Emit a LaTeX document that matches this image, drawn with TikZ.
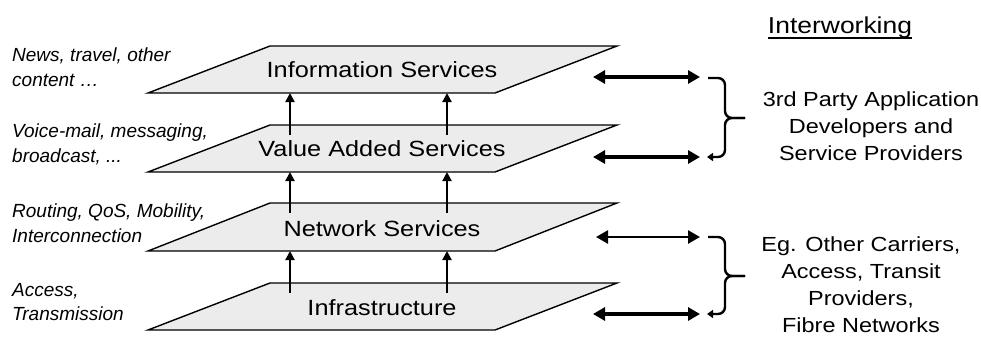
\documentclass[tikz,border=0pt]{standalone}
\usepackage{fontspec}
\setmainfont{Liberation Sans}
\newfontfamily\widefont{Liberation Sans}[FakeStretch=1.15]
\usetikzlibrary{arrows.meta}
\definecolor{layergray}{RGB}{236,236,236}
\begin{document}
\begin{tikzpicture}[x=1pt,y=-1pt,
  layer/.style={draw=black, line width=1.4pt, fill=layergray, line join=miter},
  lab/.style={font=\widefont\fontsize{22}{26}\selectfont, inner sep=0pt},
  side/.style={font=\itshape\fontsize{19}{24.5}\selectfont, inner sep=0pt, anchor=north west, align=left},
  party/.style={font=\widefont\fontsize{20.4}{27}\selectfont, inner sep=0pt, anchor=north, align=center},
  uparrow/.style={line width=2pt, -{Triangle[length=9pt,width=9pt]}},
  dbl/.style={line width=4pt, {Triangle[length=12pt,width=13pt]}-{Triangle[length=12pt,width=13pt]}},
  dblthin/.style={line width=2.6pt, {Triangle[length=12pt,width=13pt]}-{Triangle[length=12pt,width=13pt]}},
  bracestyle/.style={line width=2.4pt, rounded corners=7pt},
  bracetip/.style={line width=2.4pt, rounded corners=7pt, -{Triangle[length=6pt,width=8pt]}}
]
\useasboundingbox (0,0) rectangle (981,338);
\fill[white] (0,0) rectangle (981,338);

% layers (bottom to top so upper ones are drawn last)
\draw[layer] (148,330) -- (270,283) -- (617,283) -- (495,330) -- cycle;
\draw[layer] (148,251) -- (270,203) -- (617,203) -- (495,251) -- cycle;
\draw[layer] (148,172) -- (270,125) -- (617,125) -- (495,172) -- cycle;
\draw[layer] (148,93) -- (270,46) -- (617,46) -- (495,93) -- cycle;

\node[lab] (info)  at (382,69.5) {Information Services};
\node[lab] (vas)   at (382,148.5) {Value Added Services};
\node[lab] (net)   at (382,228.5) {Network Services};
\node[lab] (infra) at (382,307.5) {Infrastructure};

% vertical arrows
\coordinate (u1a) at (290,135); \coordinate (u1b) at (290,93);
\coordinate (u2a) at (447,135); \coordinate (u2b) at (447,93);
\coordinate (u3a) at (290,213); \coordinate (u3b) at (290,172);
\coordinate (u4a) at (447,213); \coordinate (u4b) at (447,172);
\coordinate (u5a) at (290,293); \coordinate (u5b) at (290,251);
\coordinate (u6a) at (447,293); \coordinate (u6b) at (447,251);
\draw[uparrow] (u1a) -- (u1b);
\draw[uparrow] (u2a) -- (u2b);
\draw[uparrow] (u3a) -- (u3b);
\draw[uparrow] (u4a) -- (u4b);
\draw[uparrow] (u5a) -- (u5b);
\draw[uparrow] (u6a) -- (u6b);

% left descriptions
\node[side] (d1) at (12,48) {News, travel, other\\content \dots};
\node[side] (d2) at (12,124) {Voice-mail, messaging,\\broadcast, ...};
\node[side] (d3) at (12,204) {Routing, QoS, Mobility,\\Interconnection};
\node[side] (d4) at (12,283) {Access,\\Transmission};

% interworking double arrows
\coordinate (h1a) at (593,77);  \coordinate (h1b) at (700,77);
\coordinate (h2a) at (593,157); \coordinate (h2b) at (700,157);
\coordinate (h3a) at (596,237); \coordinate (h3b) at (700,237);
\coordinate (h4a) at (593,314); \coordinate (h4b) at (700,314);
\draw[dbl] (h1a) -- (h1b);
\draw[dbl] (h2a) -- (h2b);
\draw[dblthin] (h3a) -- (h3b);
\draw[dbl] (h4a) -- (h4b);

% braces
\coordinate (b1t) at (708,78);  \coordinate (b1m) at (745,118); \coordinate (b1b) at (707,157);
\coordinate (b2t) at (708,237); \coordinate (b2m) at (745,276); \coordinate (b2b) at (707,314);
\draw[bracestyle] (b1t) -- (725,78) -- (725,118) -- (b1m);
\draw[bracetip] (b1m) -- (725,118) -- (725,157) -- (b1b);
\draw[bracestyle] (b2t) -- (725,237) -- (725,276) -- (b2m);
\draw[bracetip] (b2m) -- (725,276) -- (725,314) -- (b2b);

% right texts
\node[font=\widefont\fontsize{23}{27}\selectfont, inner sep=0pt, anchor=base] (iw) at (840,33) {Interworking};
\draw[line width=2pt] ([yshift=-4.5pt]iw.base west) -- ([yshift=-4.5pt]iw.base east);
\node[party] (p1) at (871,92) {3rd Party Application\\Developers and\\Service Providers};
\node[party] (p2) at (861,237) {Eg. Other Carriers,\\Access, Transit\\Providers,\\Fibre Networks};
\end{tikzpicture}
\end{document}
